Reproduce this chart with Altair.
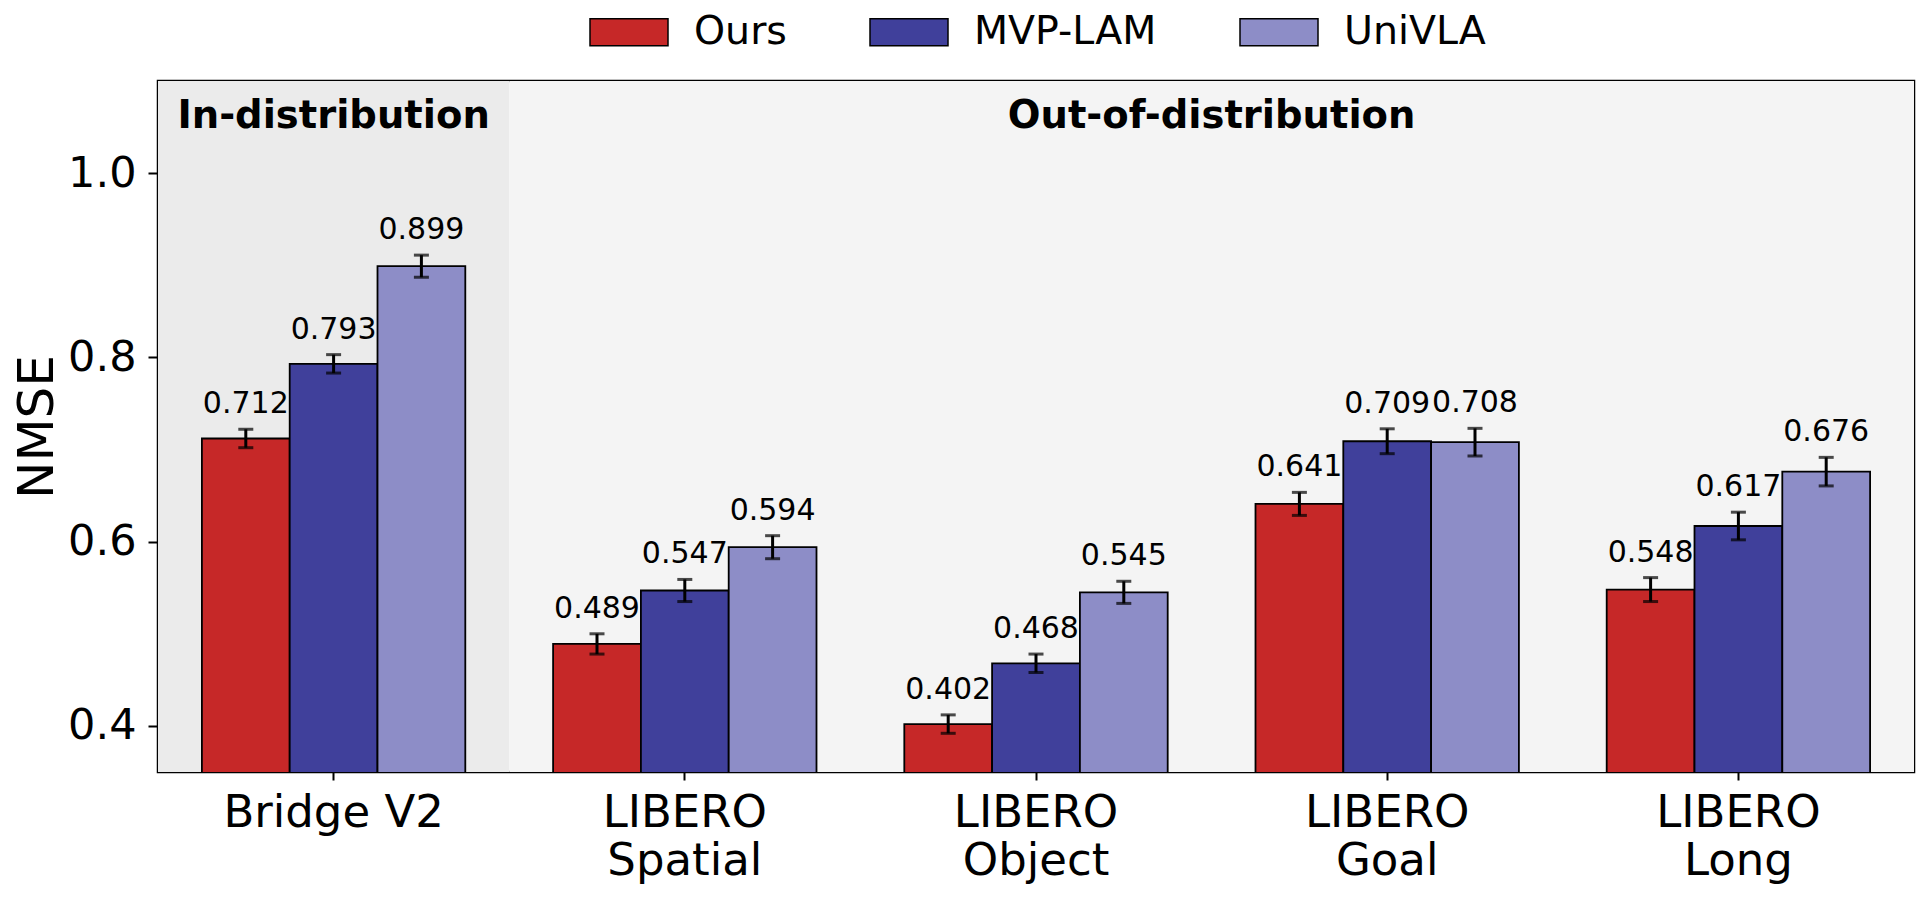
import altair as alt
import pandas as pd

# ---- data ----
categories = ["Bridge V2", "LIBERO\nSpatial", "LIBERO\nObject", "LIBERO\nGoal", "LIBERO\nLong"]
methods = ["Ours", "MVP-LAM", "UniVLA"]
ours = [0.712, 0.489, 0.402, 0.641, 0.548]
ours_err = [0.010, 0.011, 0.010, 0.0125, 0.013]
mvp = [0.793, 0.547, 0.468, 0.709, 0.617]
mvp_err = [0.010, 0.012, 0.010, 0.0135, 0.015]
univla = [0.899, 0.594, 0.545, 0.708, 0.676]
univla_err = [0.012, 0.0125, 0.012, 0.015, 0.0155]
colors = ["#c62828", "#40409b", "#8d8dc7"]
regions = ["In-distribution", "Out-of-distribution"]
region_first = [0, 1]
region_last = [0, 4]
region_fill = ["#ebebeb", "#f4f4f4"]
y_ticks = [0.4, 0.6, 0.8, 1.0]
y_domain = [0.35, 1.1]

W, H = 1756, 691

rows = []
for m, vals, errs in zip(methods, [ours, mvp, univla], [ours_err, mvp_err, univla_err]):
    for c, v, e in zip(categories, vals, errs):
        rows.append({"cat": c, "method": m, "value": v, "lo": v - e, "hi": v + e})
df = pd.DataFrame(rows)

reg = pd.DataFrame({"name": regions, "first": region_first, "last": region_last})
reg["x0"] = reg["first"] - 0.5
reg["x1"] = reg["last"] + 0.5
reg["center"] = (reg["first"] + reg["last"]) / 2

FONT = "DejaVu Sans"
qx = alt.Scale(domain=[-0.5, len(categories) - 0.5], nice=False, zero=False)

bg = alt.Chart(reg).mark_rect().encode(
    x=alt.X("x0:Q", scale=qx, axis=None),
    x2="x1:Q",
    y=alt.value(0),
    y2=alt.value(H),
    fill=alt.Fill("name:N", scale=alt.Scale(domain=regions, range=region_fill), legend=None),
)
reg_text = alt.Chart(reg).mark_text(
    font=FONT, fontSize=38.5, fontWeight="bold", color="black", baseline="alphabetic"
).encode(
    x=alt.X("center:Q", scale=qx, axis=None),
    y=alt.value(47),
    text="name:N",
)

xenc = alt.X(
    "cat:N",
    sort=categories,
    scale=alt.Scale(domain=categories, paddingInner=0, paddingOuter=0),
    axis=alt.Axis(
        title=None,
        labelAngle=0,
        labelExpr="split(datum.label, '\\n')",
        labelFont=FONT,
        labelFontSize=45,
        labelLineHeight=48,
        labelColor="black",
        labelLimit=0,
        labelPadding=10,
        tickSize=8,
        tickWidth=2,
        tickColor="black",
        domain=False,
    ),
)
xoff = alt.XOffset(
    "method:N", sort=methods,
    scale=alt.Scale(domain=methods, paddingInner=0, paddingOuter=0.5),
)
yscale = alt.Scale(domain=y_domain, nice=False, zero=False)

bars = alt.Chart(df).mark_bar(stroke="black", strokeWidth=1.8, clip=True).encode(
    x=xenc,
    xOffset=xoff,
    y=alt.Y(
        "value:Q",
        scale=yscale,
        axis=alt.Axis(
            values=y_ticks,
            format=".1f",
            title="NMSE",
            titleFont=FONT,
            titleFontSize=50,
            titleFontWeight="normal",
            titleColor="black",
            titleX=-106,
            titleY=H / 2,
            titleBaseline="alphabetic",
            titleAngle=270,
            labelFont=FONT,
            labelFontSize=43,
            labelColor="black",
            labelPadding=12,
            tickSize=10,
            tickWidth=2,
            tickColor="black",
            grid=False,
            domain=False,
        ),
    ),
    color=alt.Color(
        "method:N",
        sort=methods,
        scale=alt.Scale(domain=methods, range=colors),
        legend=alt.Legend(
            title=None,
            orient="none",
            direction="horizontal",
            legendX=431,
            legendY=-89,
            labelFont=FONT,
            labelFontSize=39.5,
            labelColor="black",
            labelLimit=0,
            labelOffset=25,
            columnPadding=80,
            symbolType="M-1,-0.346H1V0.346H-1Z",
            symbolSize=6084,
            symbolStrokeColor="black",
            symbolStrokeWidth=1.5,
            symbolOpacity=1,
            padding=0,
        ),
    ),
)

err = alt.Chart(df).mark_rule(color="black", strokeWidth=3).encode(
    x=alt.X("cat:N", sort=categories),
    xOffset=alt.XOffset("method:N", sort=methods),
    y=alt.Y("lo:Q", scale=yscale),
    y2="hi:Q",
)
caps = alt.Chart(df).transform_fold(["lo", "hi"], as_=["end", "yv"]).mark_tick(
    color="black", thickness=3, size=15
).encode(
    x=alt.X("cat:N", sort=categories),
    xOffset=alt.XOffset("method:N", sort=methods),
    y=alt.Y("yv:Q", scale=yscale),
)
vals = alt.Chart(df).mark_text(
    font=FONT, fontSize=30, color="black", baseline="alphabetic", dy=-16
).encode(
    x=alt.X("cat:N", sort=categories),
    xOffset=alt.XOffset("method:N", sort=methods),
    y=alt.Y("hi:Q", scale=yscale),
    text=alt.Text("value:Q", format=".3f"),
)

chart = alt.layer(
    alt.layer(bg, reg_text),
    alt.layer(bars, err, caps, vals),
).resolve_scale(x="independent").properties(
    width=W,
    height=H,
    autosize=alt.AutoSizeParams(type="none"),
    padding={"left": 150, "top": 73, "right": 8, "bottom": 124},
    background="white",
).configure_view(
    stroke="black", strokeWidth=2.5
)

chart.save("out.html", embed_options={"renderer": "svg", "actions": False})
